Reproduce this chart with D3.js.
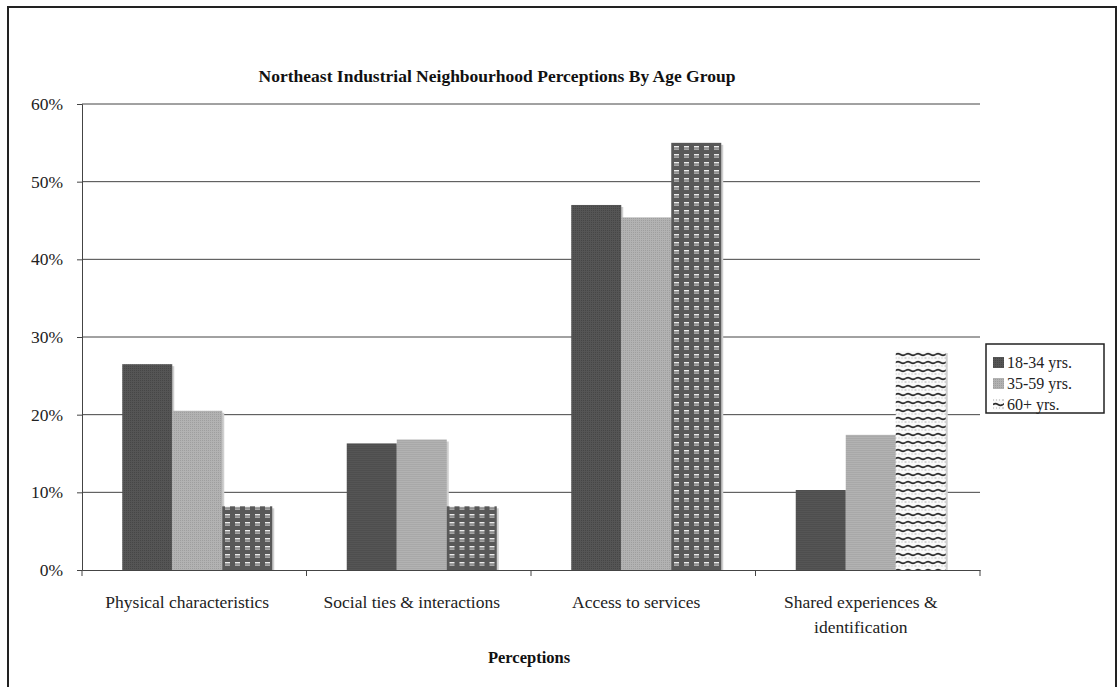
<!DOCTYPE html>
<html>
<head>
<meta charset="utf-8">
<script src="https://cdn.jsdelivr.net/npm/d3@7"></script>
<style>
  body { margin: 0; background: #fff; }
  svg { display: block; }
</style>
</head>
<body>
<svg id="chart" width="1118" height="687"></svg>
<script>
const categories = [
  ['Physical characteristics'],
  ['Social ties & interactions'],
  ['Access to services'],
  ['Shared experiences &', 'identification']
]
const series = ['18-34 yrs.', '35-59 yrs.', '60+ yrs.']
const age_18_34 = [26.5, 16.3, 47.0, 10.3]
const age_35_59 = [20.5, 16.8, 45.4, 17.4]
const age_60_plus = [8.2, 8.2, 55.0, 28.2]
const y_ticks = [0, 10, 20, 30, 40, 50, 60]

const values = [age_18_34, age_35_59, age_60_plus]
const serif = '"Liberation Serif", "Times New Roman", Times, serif'

const svg = d3.select('#chart')
const defs = svg.append('defs')

// white dashes on dark grey
const p1 = defs.append('pattern')
  .attr('id', 'pat-dash')
  .attr('patternUnits', 'userSpaceOnUse')
  .attr('width', 10).attr('height', 8)
p1.append('rect').attr('width', 10).attr('height', 8).attr('fill', '#585858')
p1.append('rect').attr('x', 3).attr('y', 2).attr('width', 5).attr('height', 1.5).attr('fill', '#ececec')
p1.append('rect').attr('x', 3).attr('y', 4.5).attr('width', 5).attr('height', 1.2).attr('fill', '#c8c8c8')

// wavy lines on white
const p2 = defs.append('pattern')
  .attr('id', 'pat-wave')
  .attr('patternUnits', 'userSpaceOnUse')
  .attr('width', 10).attr('height', 8)
p2.append('rect').attr('width', 10).attr('height', 8).attr('fill', '#fafafa')
p2.append('path').attr('d', 'M0,2.5 Q2.5,0.8 5,2.5 T10,2.5').attr('stroke', '#2a2a2a').attr('stroke-width', 1.6).attr('fill', 'none')
p2.append('path').attr('d', 'M0,6 L10,6').attr('stroke', '#999').attr('stroke-width', 0.8).attr('stroke-dasharray', '1,2')

// stipple for light grey
const p3 = defs.append('pattern')
  .attr('id', 'pat-light')
  .attr('patternUnits', 'userSpaceOnUse')
  .attr('width', 2).attr('height', 2)
p3.append('rect').attr('width', 2).attr('height', 2).attr('fill', '#b2b2b2')
p3.append('rect').attr('width', 1).attr('height', 1).attr('fill', '#9e9e9e')

// stipple for dark grey
const p4 = defs.append('pattern')
  .attr('id', 'pat-dark')
  .attr('patternUnits', 'userSpaceOnUse')
  .attr('width', 2).attr('height', 2)
p4.append('rect').attr('width', 2).attr('height', 2).attr('fill', '#555')
p4.append('rect').attr('width', 1).attr('height', 1).attr('fill', '#464646')

const fills = ['url(#pat-dark)', 'url(#pat-light)', 'url(#pat-dash)']

// outer frame
svg.append('path')
  .attr('d', 'M8,687 L8,7 L1116,7 L1116,687')
  .attr('fill', 'none').attr('stroke', '#222').attr('stroke-width', 2)

const margin = { left: 82, right: 980, top: 104, bottom: 570 }

const x = d3.scaleBand()
  .domain(d3.range(categories.length))
  .range([margin.left, margin.right])
  .paddingInner(0).paddingOuter(0)

const xs = d3.scaleBand()
  .domain(d3.range(series.length))
  .range([3, x.bandwidth() + 3])
  .paddingInner(0).paddingOuter(0.745)

const y = d3.scaleLinear().domain([0, 60]).range([margin.bottom, margin.top])

// gridlines
svg.append('g')
  .selectAll('line')
  .data(y_ticks.filter(d => d > 0))
  .join('line')
  .attr('x1', margin.left).attr('x2', margin.right)
  .attr('y1', d => y(d)).attr('y2', d => y(d))
  .attr('stroke', '#444').attr('stroke-width', 1)

// bars
const groups = svg.append('g')
  .selectAll('g')
  .data(categories)
  .join('g')
  .attr('transform', (d, i) => `translate(${x(i)},0)`)

groups.each(function (c, ci) {
  const g = d3.select(this)
  series.forEach((s, si) => {
    const v = values[si][ci]
    const fill = (si === 2 && ci === 3) ? 'url(#pat-wave)' : fills[si]
    // slight shadow on the right edge
    g.append('rect')
      .attr('x', xs(si) + 2).attr('y', y(v) + 2)
      .attr('width', xs.bandwidth()).attr('height', y(0) - y(v) - 2)
      .attr('fill', '#cfcfcf')
    g.append('rect')
      .attr('x', xs(si)).attr('y', y(v))
      .attr('width', xs.bandwidth()).attr('height', y(0) - y(v))
      .attr('fill', fill)
  })
})

// y axis
const yAxis = d3.axisLeft(y)
  .tickValues(y_ticks)
  .tickFormat(d => d + '%')
  .tickSize(5).tickPadding(14)
const ya = svg.append('g').attr('transform', `translate(${margin.left},0)`).call(yAxis)
ya.select('.domain').attr('stroke', '#444')
ya.selectAll('.tick line').attr('stroke', '#444')
ya.selectAll('text').attr('font-size', 17.5).attr('fill', '#222')

// x axis
const xAxis = d3.axisBottom(x).tickSize(0).tickFormat('')
const xa = svg.append('g').attr('transform', `translate(0,${margin.bottom})`).call(xAxis)
xa.select('.domain').attr('stroke', '#444')
xa.selectAll('.tick').remove()
xa.selectAll('.sep')
  .data(d3.range(categories.length + 1))
  .join('line')
  .attr('x1', i => margin.left + i * x.step()).attr('x2', i => margin.left + i * x.step())
  .attr('y1', 0).attr('y2', 6)
  .attr('stroke', '#444')

// category labels
svg.append('g')
  .selectAll('text')
  .data(categories)
  .join('text')
  .attr('x', (d, i) => x(i) + x.bandwidth() / 2 - 7)
  .attr('y', 608)
  .attr('text-anchor', 'middle')
  .attr('font-size', 17.5).attr('fill', '#222')
  .selectAll('tspan')
  .data(d => d)
  .join('tspan')
  .attr('x', function () { return this.parentNode.getAttribute('x') })
  .attr('dy', (d, i) => i === 0 ? 0 : 25)
  .text(d => d)

// titles
svg.append('text')
  .attr('x', 497).attr('y', 82)
  .attr('text-anchor', 'middle')
  .attr('font-size', 17.5).attr('font-weight', 'bold').attr('fill', '#111')
  .text('Northeast Industrial Neighbourhood Perceptions By Age Group')

svg.append('text')
  .attr('x', 529).attr('y', 663)
  .attr('text-anchor', 'middle')
  .attr('font-size', 16.5).attr('font-weight', 'bold').attr('fill', '#111')
  .text('Perceptions')

// legend
const legend = svg.append('g').attr('transform', 'translate(986,344)')
legend.append('rect')
  .attr('width', 118).attr('height', 69)
  .attr('fill', '#fff').attr('stroke', '#222').attr('stroke-width', 1.5)
const li = legend.selectAll('.item')
  .data(series)
  .join('g')
  .attr('class', 'item')
  .attr('transform', (d, i) => `translate(7,${24 + i * 21})`)
li.append('rect')
  .attr('x', 0).attr('y', -11).attr('width', 11).attr('height', 11)
  .attr('fill', (d, i) => i === 2 ? 'url(#pat-wave)' : fills[i])
li.append('text')
  .attr('x', 14).attr('y', 0)
  .attr('font-size', 16).attr('fill', '#222')
  .text(d => d)

svg.selectAll('text').attr('font-family', serif)
</script>
</body>
</html>
